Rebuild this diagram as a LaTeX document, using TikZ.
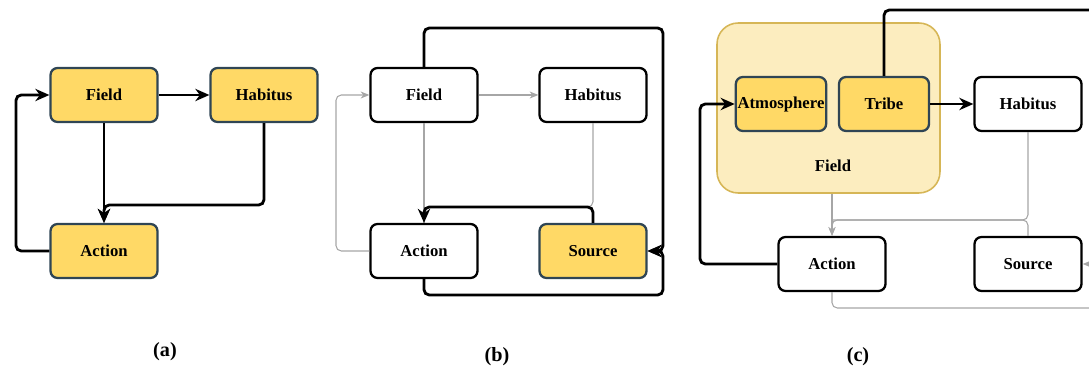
\documentclass[tikz,border=0pt]{standalone}
\usepackage{fontspec}
\setmainfont{Liberation Serif}
\usetikzlibrary{arrows.meta}

\definecolor{boxyellow}{HTML}{FFD966}
\definecolor{boxedge}{HTML}{2F4554}
\definecolor{grpfill}{HTML}{FCEDBF}
\definecolor{grpedge}{HTML}{D6B656}
\definecolor{thin}{HTML}{A6A6A6}

\tikzset{
  wbox/.style={draw=black, line width=1.3pt, fill=white, rounded corners=4pt,
    minimum width=2.14cm, minimum height=1.08cm, inner sep=1pt,
    font=\fontsize{9.5}{11}\selectfont\bfseries},
  ybox/.style={wbox, draw=boxedge, fill=boxyellow},
  grp/.style={draw=grpedge, line width=0.9pt, fill=grpfill, rounded corners=12pt},
  blk/.style={line width=1.6pt, rounded corners=3pt},
  gry/.style={draw=thin, line width=0.6pt, rounded corners=3pt},
  tag/.style={font=\fontsize{11.5}{13}\selectfont\bfseries}
}

\begin{document}
\begin{tikzpicture}[x=0.02cm, y=-0.02cm]
\clip (0,0) rectangle (1089,371);

% (a)
\node[ybox] (fa) at (104,95) {Field};
\node[ybox] (ha) at (264,95) {Habitus};
\node[ybox] (aa) at (104,251) {Action};
\coordinate (ja) at (104,205);
\coordinate (la) at (16,95);
\draw[blk, -{Stealth[length=8pt,width=7pt]}] (fa.east) -- (ha.west);
\draw[blk, -{Stealth[length=8pt,width=7pt]}] (ha.south) |- (ja) -- (aa.north);
\draw[blk, -{Stealth[length=8pt,width=7pt]}] (fa.south) -- (aa.north);
\draw[blk, -{Stealth[length=8pt,width=7pt]}] (aa.west) -| (la) -- (fa.west);
\node[tag] (ta) at (165,352) {(a)};

% (b)
\node[wbox] (fb) at (424,95) {Field};
\node[wbox] (hb) at (593,95) {Habitus};
\node[wbox] (ab) at (424,251) {Action};
\node[ybox] (sb) at (593,251) {Source};
\coordinate (jb) at (424,207);
\coordinate (lb) at (336,95);
\coordinate (tb) at (663,28);
\coordinate (bb) at (663,295);
\draw[gry, -{Stealth[length=5pt,width=4pt]}] (fb.east) -- (hb.west);
\draw[gry] (fb.south) -- (ab.north);
\draw[gry] (hb.south) |- (jb) -- (ab.north);
\draw[gry, -{Stealth[length=5pt,width=4pt]}] (ab.west) -| (lb) -- (fb.west);
\draw[blk, -{Stealth[length=8pt,width=7pt]}] (sb.north) |- (jb) -- (ab.north);
\draw[blk, -{Stealth[length=8pt,width=7pt]}] (fb.north) |- (tb) |- (sb.east);
\draw[blk, -{Stealth[length=8pt,width=7pt]}] (ab.south) |- (bb) |- (sb.east);
\node[tag] (tb2) at (497,357) {(b)};

% (c)
\node[grp, minimum width=4.46cm, minimum height=3.4cm] (fc) at (828.5,108) {};
\node[font=\fontsize{9.5}{11}\selectfont\bfseries] (fl) at (833,166) {Field};
\node[ybox, minimum width=1.8cm] (mc) at (781,104) {Atmosphere};
\node[ybox, minimum width=1.8cm] (tc) at (884,104) {Tribe};
\node[wbox] (hc) at (1028,104) {Habitus};
\node[wbox] (ac) at (832,264) {Action};
\node[wbox] (sc) at (1028,264) {Source};
\coordinate (jc) at (832,220);
\coordinate (lc) at (700,104);
\coordinate (tc2) at (1100,10);
\coordinate (bc) at (1100,308);
\coordinate (rc) at (1100,264);
\draw[gry, -{Stealth[length=5pt,width=4pt]}] (fc.south -| ac.north) -- (ac.north);
\draw[gry, -{Stealth[length=5pt,width=4pt]}] (hc.south) |- (jc) -- (ac.north);
\draw[gry] (sc.north) |- (jc);
\draw[gry] (ac.south) |- (bc);
\draw[gry, -{Stealth[length=5pt,width=4pt]}] (rc) -- (sc.east);
\draw[blk] (tc.north) |- (tc2);
\draw[blk, -{Stealth[length=8pt,width=7pt]}] (tc.east) -- (hc.west);
\draw[blk, -{Stealth[length=8pt,width=7pt]}] (ac.west) -| (lc) -- (mc.west);
\node[tag] (tcc) at (858,357) {(c)};
\end{tikzpicture}
\end{document}
